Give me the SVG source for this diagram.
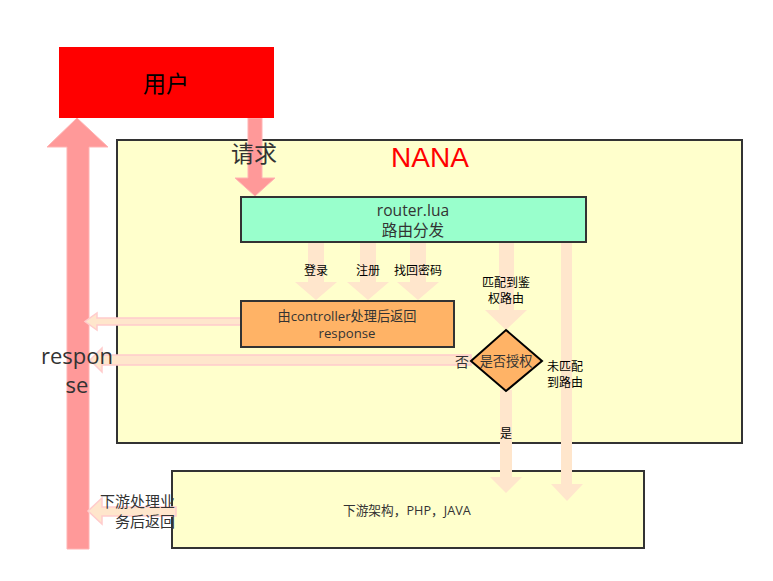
<svg xmlns="http://www.w3.org/2000/svg" width="773" height="581" viewBox="0 0 773 581">
<style>
text{font-family:"Open Sans","Noto Sans CJK SC",sans-serif;text-anchor:middle;}
.box{stroke:#333;stroke-width:2;}
.pa{fill:#ffe6cc;stroke:none;}
.la{fill:#ffe6cc;stroke:#ffcccc;stroke-width:1.5;}
.big{fill:#ff9999;stroke:#ffb3b3;stroke-width:1;}
.t12{font-size:12px;fill:#000;}
.t13{font-size:13.2px;fill:#333;}
</style>
<rect width="773" height="581" fill="#fff"/>
<g id="nana">
<rect class="box" x="117" y="140" width="625" height="303" fill="#ffffcc"/>
<text x="430" y="167" font-size="28" fill="#ff0000" style="font-family:'Liberation Sans',sans-serif">NANA</text>
</g>
<g id="downstream">
<rect class="box" x="172" y="471" width="472" height="77" fill="#ffffcc"/>
<text x="343" y="515" font-size="12.7" style="text-anchor:start;fill:#333">下游架构，PHP，JAVA</text>
</g>
<g id="connectors">
<path class="big" d="M67,549 V147 H47 L77,118 L108,147 H89 V549 Z"/>
<path class="big" d="M248,118 H262 V178 H275 L255,196 L235,178 H248 Z" stroke="none"/>
<path class="pa" d="M308,242 H324 V282 H337 L316,300 L295,282 H308 Z"/>
<path class="pa" d="M360,242 H376 V282 H389 L368,300 L347,282 H360 Z"/>
<path class="pa" d="M410,242 H426 V282 H439 L418,300 L397,282 H410 Z"/>
<path class="pa" d="M499,242 H514 V310 H527 L506,330 L485,310 H499 Z"/>
<path class="pa" d="M561,242 H572 V484 H583 L567,501 L551,484 H561 Z"/>
<path class="pa" d="M500,390 H512 V477 H522 L506,493 L490,477 H500 Z"/>
<path class="la" d="M241,318 H97 V313 L85,321.5 L97,330 V325 H241 Z"/>
<path class="la" d="M471,355 H102 V348 L90,360 L102,372 V365 H471 Z"/>
<path class="la" d="M176,507 H102 V498 L88,511 L102,524 V516 H176 Z"/>
</g>
<g id="user">
<rect x="59" y="47" width="215" height="71" fill="#ff0000"/>
<text x="166" y="92" font-size="23" fill="#000">用户</text>
</g>
<g id="router">
<rect class="box" x="241" y="197" width="345" height="45" fill="#99ffcc"/>
<text x="413" y="216" font-size="15.6" fill="#333">router.lua</text>
<text x="413" y="236" font-size="15.6" fill="#333">路由分发</text>
</g>
<g id="controller">
<rect class="box" x="241" y="301" width="213" height="46" fill="#ffb366"/>
<text x="347" y="321" class="t13">由controller处理后返回</text>
<text x="347" y="338" class="t13">response</text>
</g>
<g id="auth">
<path d="M506,330 L542,361 L506,391 L471,361 Z" fill="#ffb366" stroke="#000" stroke-width="2"/>
<text x="506" y="366" class="t13">是否授权</text>
</g>
<g id="labels">
<text x="254" y="162" font-size="23" fill="#333">请求</text>
<text x="316" y="275" class="t12">登录</text>
<text x="368" y="275" class="t12">注册</text>
<text x="418" y="275" class="t12">找回密码</text>
<text x="506" y="287" class="t12">匹配到鉴</text>
<text x="506" y="303" class="t12">权路由</text>
<text x="462" y="367" font-size="14" fill="#333">否</text>
<text x="547" y="371" class="t12" style="text-anchor:start">未匹配</text>
<text x="547" y="387" class="t12" style="text-anchor:start">到路由</text>
<text x="506" y="438" class="t12">是</text>
<text x="77" y="364" font-size="22" fill="#333">respon</text>
<text x="77" y="393" font-size="22" fill="#333">se</text>
<text x="175" y="507" font-size="15" fill="#333" style="text-anchor:end">下游处理业</text>
<text x="175" y="527" font-size="15" fill="#333" style="text-anchor:end">务后返回</text>
</g>
</svg>
